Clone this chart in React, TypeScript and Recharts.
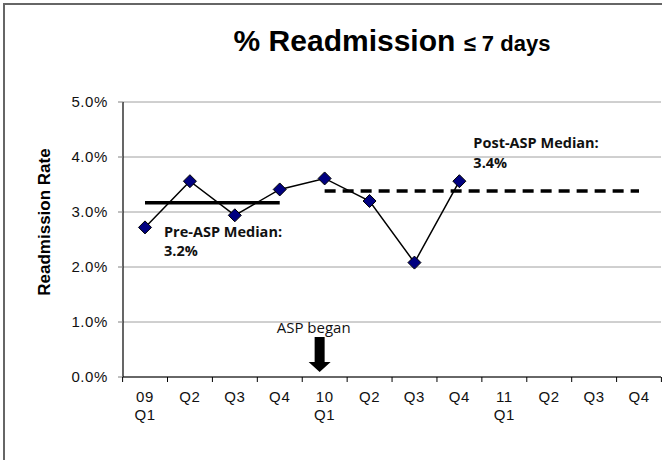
import React from 'react';
import { LineChart, Line, XAxis, YAxis, CartesianGrid, ReferenceLine, ReferenceDot } from 'recharts';

const quarters = ['09 Q1', '09 Q2', '09 Q3', '09 Q4', '10 Q1', '10 Q2', '10 Q3', '10 Q4', '11 Q1', '11 Q2', '11 Q3', '11 Q4'];
const tickLabels = [['09', 'Q1'], ['Q2'], ['Q3'], ['Q4'], ['10', 'Q1'], ['Q2'], ['Q3'], ['Q4'], ['11', 'Q1'], ['Q2'], ['Q3'], ['Q4']];
const readmissionRate = [2.72, 3.56, 2.94, 3.41, 3.61, 3.2, 2.08, 3.56, null, null, null, null];
const yTicks = [0, 1, 2, 3, 4, 5];
const preMedian = 3.17;
const postMedian = 3.38;

const data = quarters.map((q, i) => ({ q, rate: readmissionRate[i] }));

const HALF_BAND = 22.4;
const FONT = '"Liberation Sans", Arial, sans-serif';
const NOTE_FONT = '"Open Sans", sans-serif';

// Diamond marker like Excel's
function Diamond(props: any) {
    const { cx, cy } = props;
    if (cx == null || cy == null) return null;
    const r = 6.5;
    return <path d={`M${cx},${cy - r}L${cx + r},${cy}L${cx},${cy + r}L${cx - r},${cy}Z`} fill="#000080" stroke="#000" strokeWidth={1} />;
}

function XTick(props: any) {
    const { x, y, payload, index } = props;
    const lines = tickLabels[index] || [payload.value];
    const last = index === quarters.length - 1;
    return (
        <g>
            <line x1={x - HALF_BAND} x2={x - HALF_BAND} y1={y} y2={y + 5} stroke="#000" />
            {last && <line x1={x + HALF_BAND} x2={x + HALF_BAND} y1={y} y2={y + 5} stroke="#000" />}
            <text x={x} y={y + 25} textAnchor="middle" fontSize={15} fontFamily={FONT} fill="#111" letterSpacing={0.6}>
                {lines.map((l: string, i: number) => (
                    <tspan key={i} x={x} dy={i === 0 ? 0 : 18}>{l}</tspan>
                ))}
            </text>
        </g>
    );
}

function PreLabel(props: any) {
    const { cx, cy } = props;
    return (
        <text x={cx + 19} y={cy + 34} fontSize={14.5} fontWeight="bold" fontFamily={NOTE_FONT} fill="#111">
            <tspan x={cx + 19}>Pre-ASP Median:</tspan>
            <tspan x={cx + 19} dy={19}>3.2%</tspan>
        </text>
    );
}

function PostLabel(props: any) {
    const { cx, cy } = props;
    return (
        <text x={cx + 14} y={cy - 43} fontSize={14.5} fontWeight="bold" fontFamily={NOTE_FONT} fill="#111">
            <tspan x={cx + 14}>Post-ASP Median:</tspan>
            <tspan x={cx + 14} dy={20}>3.4%</tspan>
        </text>
    );
}

function AspArrow(props: any) {
    const { cx, cy } = props;
    const ax = cx - 5;
    const tip = cy - 5;
    return (
        <g>
            <text x={ax - 6} y={cy - 44} textAnchor="middle" fontSize={15} fontFamily={NOTE_FONT} fill="#111">ASP began</text>
            <path
                d={`M${ax - 5},${cy - 40}L${ax + 5},${cy - 40}L${ax + 5},${tip - 10}L${ax + 11},${tip - 10}L${ax},${tip}L${ax - 11},${tip - 10}L${ax - 5},${tip - 10}Z`}
                fill="#000"
            />
        </g>
    );
}

export default function App() {
    return (
        <div style={{ position: 'fixed', left: 0, top: 0, width: 662, height: 460, background: '#fff', overflow: 'hidden' }}>
            <div style={{ position: 'absolute', left: 3, top: 3, width: 700, height: 500, borderLeft: '2px solid #666', borderTop: '2px solid #666' }} />
            <div style={{ position: 'absolute', left: 123, width: 538, top: 24, textAlign: 'center', fontFamily: FONT, fontWeight: 'bold', color: '#000', whiteSpace: 'nowrap' }}>
                <span style={{ fontSize: 30 }}>% Readmission </span>
                <span style={{ fontSize: 22 }}>≤ 7 days</span>
            </div>
            <div style={{ position: 'absolute', left: 45, top: 222, transform: 'translate(-50%, -50%) rotate(-90deg)', fontFamily: FONT, fontWeight: 'bold', fontSize: 17, whiteSpace: 'nowrap', color: '#000' }}>
                Readmission Rate
            </div>
            <div style={{ position: 'absolute', left: 0, top: 0 }}>
                <LineChart width={662} height={460} data={data} margin={{ top: 102, right: 1, bottom: 43, left: 0 }}>
                    <CartesianGrid vertical={false} stroke="#a0a0a0" strokeWidth={1} />
                    <XAxis
                        dataKey="q"
                        padding={{ left: 22, right: 22 }}
                        height={40}
                        tickSize={0}
                        tickMargin={0}
                        tickLine={false}
                        axisLine={{ stroke: '#000', strokeWidth: 1.2 }}
                        interval={0}
                        tick={<XTick />}
                    />
                    <YAxis
                        width={123}
                        domain={[0, 5]}
                        ticks={yTicks}
                        tickFormatter={(v: number) => `${v.toFixed(1)}%`}
                        tickSize={5}
                        tickMargin={10}
                        tickLine={{ stroke: '#808080' }}
                        axisLine={{ stroke: '#000', strokeWidth: 1.2 }}
                        tick={{ fontSize: 15, fontFamily: FONT, fill: '#111', letterSpacing: 0.6 }}
                    />
                    <ReferenceLine
                        segment={[{ x: '09 Q1', y: preMedian }, { x: '09 Q4', y: preMedian }]}
                        stroke="#000"
                        strokeWidth={3.5}
                    />
                    <ReferenceLine
                        segment={[{ x: '10 Q1', y: postMedian }, { x: '11 Q4', y: postMedian }]}
                        stroke="#000"
                        strokeWidth={3.5}
                        strokeDasharray="11 7"
                    />
                    <Line
                        dataKey="rate"
                        stroke="#000"
                        strokeWidth={1.5}
                        dot={<Diamond />}
                        activeDot={false}
                        isAnimationActive={false}
                        connectNulls={false}
                    />
                    <ReferenceDot x="09 Q1" y={preMedian} r={0} ifOverflow="visible" shape={<PreLabel />} />
                    <ReferenceDot x="10 Q4" y={postMedian} r={0} ifOverflow="visible" shape={<PostLabel />} />
                    <ReferenceDot x="10 Q1" y={0} r={0} ifOverflow="visible" shape={<AspArrow />} />
                </LineChart>
            </div>
        </div>
    );
}
